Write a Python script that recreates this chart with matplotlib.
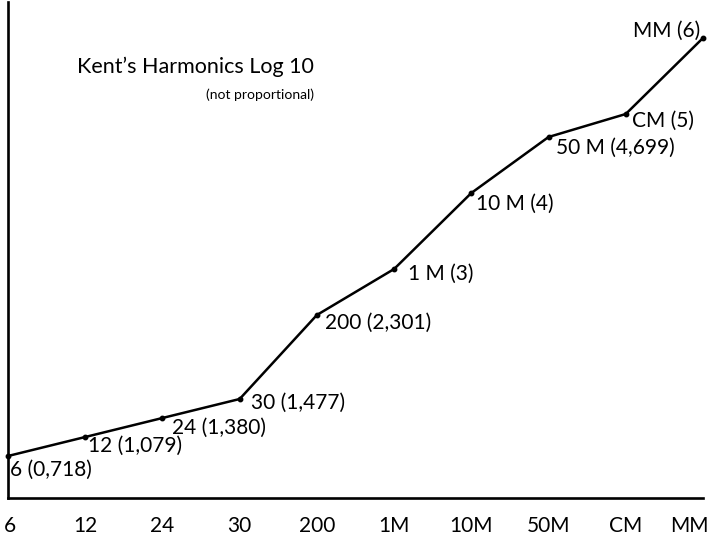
import matplotlib
matplotlib.use("Agg")
import matplotlib.pyplot as plt
import matplotlib.transforms as mtrans

# Data (heights are the drawn positions, the chart is "not proportional")
categories = ["6", "12", "24", "30", "200", "1M", "10M", "50M", "CM", "MM"]
heights = [42, 61, 80, 99, 183, 229, 305, 361, 384, 460]
point_labels = ["6 (0,718)", "12 (1,079)", "24 (1,380)", "30 (1,477)", "200 (2,301)",
                "1 M (3)", "10 M (4)", "50 M (4,699)", "CM (5)", "MM (6)"]

# label offsets in pixels (dx, dy) from each point
label_offsets = [(2, -14), (3, -9), (10, -10), (11, -4), (8, -8),
                 (14, -5), (5, -11), (7, -11), (6, -7), (-3, 7)]

plt.rcParams['font.family'] = ['Lato', 'DejaVu Sans']

fig = plt.figure(figsize=(7.11, 5.38), dpi=100)
ax = fig.add_axes([8/711, 40/538, 695/711, 496/538])

x = list(range(len(categories)))
ax.plot(x, heights, color='black', lw=1.8, marker='o', markersize=3.2, clip_on=False)

for i, (lab, (dx, dy)) in enumerate(zip(point_labels, label_offsets)):
    ha = 'right' if i == len(categories) - 1 else 'left'
    ax.annotate(lab, (x[i], heights[i]), xytext=(dx * 0.72, dy * 0.72),
                textcoords='offset points', ha=ha, va='center', fontsize=15)

ax.set_xlim(0, 9)
ax.set_ylim(0, 496)
ax.set_xticks(x)
ax.set_xticklabels(categories, fontsize=15)
ax.set_yticks([])
ax.tick_params(axis='x', length=0, pad=13)

# keep the first and last tick labels inside the figure
first = ax.get_xticklabels()[0]
first.set_transform(first.get_transform() + mtrans.ScaledTranslation(2/100, 0, fig.dpi_scale_trans))
last = ax.get_xticklabels()[-1]
last.set_transform(last.get_transform() + mtrans.ScaledTranslation(-14/100, 0, fig.dpi_scale_trans))

for s in ['top', 'right']:
    ax.spines[s].set_visible(False)
for s in ['left', 'bottom']:
    ax.spines[s].set_linewidth(1.9)

ax.text(77/711, 1 - 67/538, "Kent’s Harmonics Log 10", transform=fig.transFigure,
        ha='left', va='center', fontsize=15.5)
ax.text(314/711, 1 - 95/538, "(not proportional)", transform=fig.transFigure,
        ha='right', va='center', fontsize=10)

fig.savefig("out.png", dpi=100)
